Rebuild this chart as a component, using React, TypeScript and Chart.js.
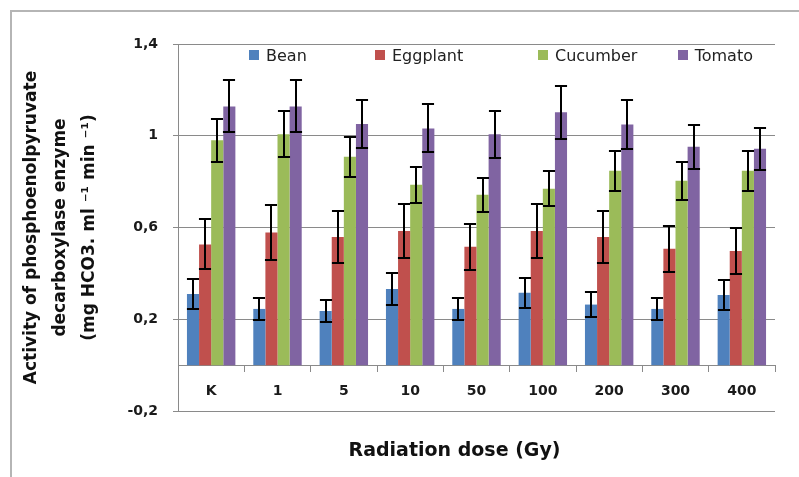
import React, { useEffect, useRef } from "react";
import { Chart, registerables } from "chart.js";

Chart.register(...registerables);

const categories = ["K", "1", "5", "10", "50", "100", "200", "300", "400"];
const seriesNames = ["Bean", "Eggplant", "Cucumber", "Tomato"];
const bean = [0.31, 0.245, 0.236, 0.332, 0.245, 0.315, 0.264, 0.245, 0.306];
const beanErr = [0.065, 0.049, 0.049, 0.07, 0.047, 0.065, 0.054, 0.048, 0.065];
const eggplant = [0.526, 0.578, 0.559, 0.585, 0.516, 0.585, 0.559, 0.507, 0.498];
const eggplantErr = [0.109, 0.118, 0.113, 0.118, 0.1, 0.118, 0.113, 0.1, 0.1];
const cucumber = [0.98, 1.007, 0.908, 0.786, 0.743, 0.769, 0.847, 0.804, 0.847];
const cucumberErr = [0.095, 0.1, 0.087, 0.079, 0.074, 0.077, 0.088, 0.083, 0.088];
const tomato = [1.128, 1.128, 1.051, 1.032, 1.006, 1.102, 1.049, 0.952, 0.943];
const tomatoErr = [0.113, 0.113, 0.105, 0.105, 0.101, 0.114, 0.105, 0.097, 0.092];
const yTicks = [-0.2, 0.2, 0.6, 1, 1.4];
const yTitle = ["Activity of phosphoenolpyruvate", "decarboxylase enzyme", "(mg HCO3. ml \u207B\u00B9 min \u207B\u00B9)"];
const xTitle = "Radiation dose (Gy)";

const colors = ["#4F81BD", "#C0504D", "#9BBB59", "#8064A2"];
const seriesValues = [bean, eggplant, cucumber, tomato];
const seriesErrors = [beanErr, eggplantErr, cucumberErr, tomatoErr];

const GRID = "#8a8a8a";
const FONT = "'DejaVu Sans', sans-serif";

const errorBarPlugin = {
  id: "errorBars",
  afterDatasetsDraw(chart: any) {
    const ctx = chart.ctx;
    const yScale = chart.scales.y;
    ctx.save();
    ctx.strokeStyle = "#000";
    ctx.lineWidth = 2;
    chart.data.datasets.forEach((ds: any, di: number) => {
      const meta = chart.getDatasetMeta(di);
      meta.data.forEach((el: any, i: number) => {
        const v = ds.data[i];
        const e = ds.errors[i];
        const yT = Math.round(yScale.getPixelForValue(v + e)) + 0.0;
        const yB = Math.round(yScale.getPixelForValue(v - e)) + 0.0;
        const x = Math.round(el.x) + 0.0;
        const hw = el.width / 2;
        ctx.beginPath();
        ctx.moveTo(x, yT);
        ctx.lineTo(x, yB);
        ctx.moveTo(x - hw, yT);
        ctx.lineTo(x + hw, yT);
        ctx.moveTo(x - hw, yB);
        ctx.lineTo(x + hw, yB);
        ctx.stroke();
      });
    });
    ctx.restore();
  },
};

const legendFractions = [0.119, 0.33, 0.603, 0.837];

const innerLegendPlugin = {
  id: "innerLegend",
  afterDraw(chart: any) {
    const ctx = chart.ctx;
    const area = chart.chartArea;
    ctx.save();
    ctx.font = `16px ${FONT}`;
    ctx.textBaseline = "middle";
    ctx.textAlign = "left";
    chart.data.datasets.forEach((ds: any, i: number) => {
      const x = area.left + area.width * legendFractions[i];
      const cy = area.top + 12;
      ctx.fillStyle = ds.backgroundColor;
      ctx.fillRect(Math.round(x), Math.round(cy - 6), 10, 10);
      ctx.fillStyle = "#222";
      ctx.fillText(ds.label, x + 17, cy + 1);
    });
    ctx.restore();
  },
};

const xTitlePlugin = {
  id: "xTitle",
  afterDraw(chart: any) {
    const ctx = chart.ctx;
    const area = chart.chartArea;
    ctx.save();
    ctx.font = `bold 19px ${FONT}`;
    ctx.fillStyle = "#111";
    ctx.textAlign = "center";
    ctx.textBaseline = "middle";
    ctx.fillText(xTitle, (area.left + area.right) / 2 - 22, area.bottom + 40);
    ctx.restore();
  },
};

export default function App() {
  const ref = useRef<HTMLCanvasElement>(null);
  useEffect(() => {
    if (!ref.current) return;
    const chart = new Chart(ref.current, {
      type: "bar",
      data: {
        labels: categories,
        datasets: seriesNames.map((name, i) => ({
          label: name,
          data: seriesValues[i],
          errors: seriesErrors[i],
          backgroundColor: colors[i],
          borderWidth: 0,
          categoryPercentage: 0.73,
          barPercentage: 1,
        })) as any,
      },
      options: {
        responsive: false,
        animation: false,
        layout: { padding: { top: 44, right: 24, bottom: 66, left: 0 } },
        plugins: {
          legend: { display: false },
          tooltip: { enabled: false },
        },
        scales: {
          x: {
            position: { y: 0 } as any,
            grid: {
              drawOnChartArea: false,
              drawTicks: true,
              tickLength: 6,
              color: GRID,
              offset: true,
            },
            border: { display: true, color: GRID, width: 1 },
            ticks: {
              color: "#1a1a1a",
              font: { family: FONT, size: 14, weight: "bold" },
              padding: 12,
              maxRotation: 0,
            },
          },
          y: {
            min: -0.2,
            max: 1.4,
            afterBuildTicks: (scale: any) => {
              scale.ticks = yTicks.map((v) => ({ value: v }));
            },
            afterFit: (scale: any) => {
              scale.width = 178;
            },
            grid: { color: GRID, tickLength: 5, lineWidth: 1 },
            border: { display: true, color: GRID, width: 1 },
            ticks: {
              color: "#1a1a1a",
              font: { family: FONT, size: 14, weight: "bold" },
              padding: 15,
              callback: (v: any) => String(Math.round(Number(v) * 10) / 10).replace(".", ","),
            },
            title: {
              display: true,
              text: yTitle,
              color: "#111",
              font: { family: FONT, size: 17, weight: "bold", lineHeight: 29 / 17 },
              padding: { top: 17, bottom: 0 },
            },
          },
        },
      },
      plugins: [errorBarPlugin, innerLegendPlugin, xTitlePlugin],
    });
    return () => chart.destroy();
  }, []);

  return (
    <div style={{ position: "absolute", left: 0, top: 0, width: 799, height: 477, overflow: "hidden", background: "#fff" }}>
      <div
        style={{
          position: "absolute",
          left: 10,
          top: 10,
          width: 820,
          height: 500,
          border: "2px solid #b5b5b5",
        }}
      />
      <canvas ref={ref} width={799} height={477} style={{ position: "absolute", left: 0, top: 0 }} />
    </div>
  );
}
